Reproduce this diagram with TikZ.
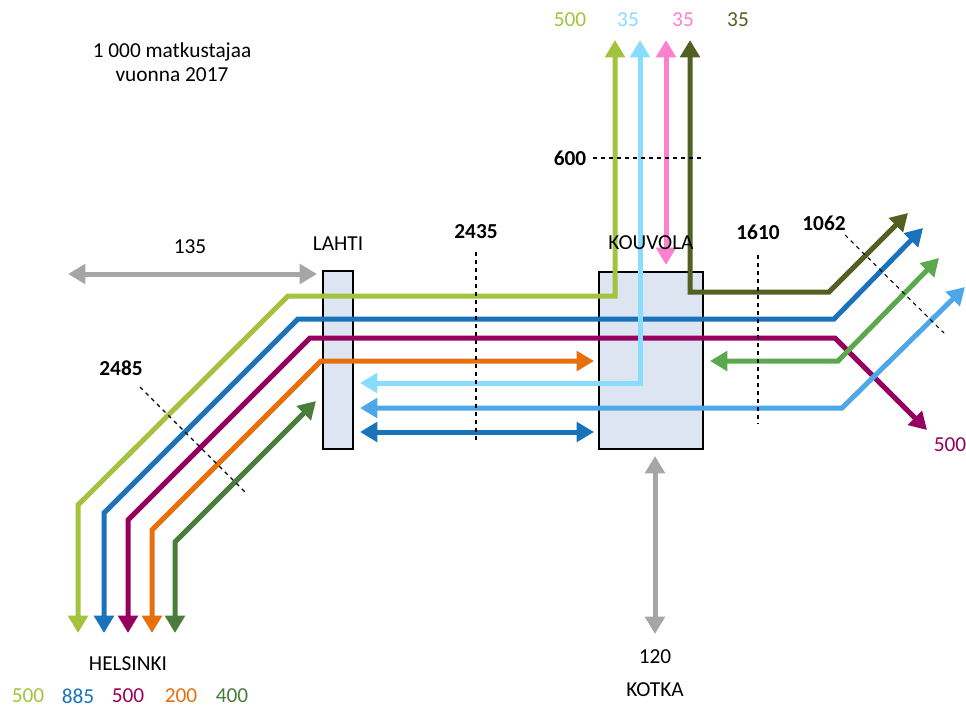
\documentclass[tikz,border=0pt]{standalone}
\usepackage{fontspec}
\setmainfont{Carlito}
\usepackage{xcolor}
\usepackage{tikz}
\usetikzlibrary{arrows.meta, positioning}

\definecolor{cLime}{HTML}{A3C23D}
\definecolor{cBlue}{HTML}{1A73BA}
\definecolor{cPurple}{HTML}{96005E}
\definecolor{cOrange}{HTML}{E6700E}
\definecolor{cDkGreen}{HTML}{4A7D3C}
\definecolor{cGreen}{HTML}{5CA84F}
\definecolor{cSky}{HTML}{8ADCFF}
\definecolor{cPink}{HTML}{FF80CF}
\definecolor{cOlive}{HTML}{526022}
\definecolor{cBright}{HTML}{4DA7E8}
\definecolor{cGray}{HTML}{A6A6A6}
\definecolor{boxfill}{HTML}{DCE5F1}

\begin{document}
\begin{tikzpicture}[
        x=0.75pt, y=-0.75pt,
        >={Triangle[length=13pt, width=14.5pt]},
        flow/.style={line width=3.75pt, <->},
        station/.style={draw, line width=1.1pt, fill=boxfill, inner sep=0pt},
        cut/.style={line width=0.8pt, dash pattern=on 3pt off 3pt},
        every node/.style={font=\fontsize{16}{18}\selectfont},
        count/.style={font=\fontsize{16}{18}\selectfont\bfseries},
        tally/.style={inner sep=0pt}
    ]
    \useasboundingbox (0,0) rectangle (966,709);

    % --- Stations ---
    \node[station, minimum width=22.5pt, minimum height=133.5pt] (lahti) at (338,360) {};
    \node[station, minimum width=78pt, minimum height=132.75pt] (kouvola) at (651,360.5) {};

    % --- Flows from Helsinki ---
    \draw[flow, cLime] (78,633) -- (78,505) -- (288,296) -- (615,296) -- (615,40);
    \draw[flow, cBlue] (104,633) -- (104,513) -- (298,319) -- (834,319) -- (923,228);
    \draw[flow, cPurple] (128,633) -- (128,520) -- (310,338) -- (835,338) -- (927,430);
    \draw[flow, cOrange] (152,633) -- (152,530) -- (321,361) -- (594,361);
    \draw[flow, cDkGreen] (175,633) -- (175,542) -- (316,401);

    % --- Flows east and north of Kouvola ---
    \draw[flow, cGreen] (710,361) -- (838,361) -- (939,258);
    \draw[flow, cSky] (360,383) -- (640,383) -- (640,40);
    \draw[flow, cPink] (666,40) -- (666,265);
    \draw[flow, cOlive] (690,40) -- (690,292) -- (829,292) -- (908,213);
    \draw[flow, cBright] (360,408) -- (842,408) -- (965,287);
    \draw[flow, cBlue] (360,432) -- (594,432);

    % --- Gray links ---
    \draw[flow, cGray] (68,274) -- (317,274);
    \draw[flow, cGray] (655,456) -- (655,634);

    % --- Cross sections ---
    \draw[cut] (593,158) -- (703,158);
    \draw[cut] (476,252) -- (476,443);
    \draw[cut] (758,255) -- (758,424);
    \draw[cut] (845,235) -- (944,333);
    \draw[cut] (140,387) -- (246,493);

    \node[count] (c600) at (570,158) {600};
    \node[count] (c2435) at (476,232) {2435};
    \node[count] (c1610) at (758,232) {1610};
    \node[count] (c1062) at (824,223) {1062};
    \node[count] (c2485) at (121,368) {2485};

    % --- Labels ---
    \node[align=center] (note) at (172,62) {1 000 matkustajaa\\vuonna 2017};
    \node (lahtilbl) at (338,244) {LAHTI};
    \node (kouvolalbl) at (651,243) {KOUVOLA};
    \node (helsinki) at (128,664) {HELSINKI};
    \node (kotkanum) at (655,657) {120};
    \node (kotka) at (655,690) {KOTKA};
    \node (n135) at (190,247) {135};

    % Helsinki numbers
    \node[tally, text=cLime] (h1) at (28,696) {500};
    \node[tally, text=cBlue] (h2) at (78,696) {885};
    \node[tally, text=cPurple] (h3) at (128,696) {500};
    \node[tally, text=cOrange] (h4) at (181,696) {200};
    \node[tally, text=cDkGreen] (h5) at (232,696) {400};

    % North numbers
    \node[text=cLime] (t1) at (570,20) {500};
    \node[text=cSky] (t2) at (628,20) {35};
    \node[text=cPink] (t3) at (683,20) {35};
    \node[text=cOlive] (t4) at (738,20) {35};

    \node[text=cPurple] (e1) at (950,445) {500};

\end{tikzpicture}
\end{document}
